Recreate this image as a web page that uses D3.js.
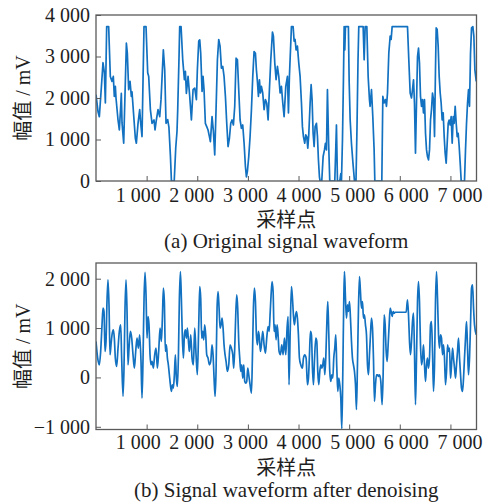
<!DOCTYPE html>
<html lang="zh">
<head>
<meta charset="utf-8">
<title>Signal waveform</title>
<style>
    body { margin: 0; background: #fff; }
    svg { display: block; }
    text {
        font-family: "Liberation Serif", "Times New Roman", "Noto Sans CJK SC", serif;
        fill: #1e1e1e;
    }
</style>
</head>
<body>
<svg id="chart" width="493" height="504"></svg>
<script src="https://cdn.jsdelivr.net/npm/d3@7"></script>
<script>
    // sample index / amplitude (mV)
    var origIdx = [0,40,66,105,138,165,185,211,250,283,316,342,362,382,395,435,461,488,500,514,547,600,619,645,672,698,711,751,777,797,830,863,883,909,948,988,1021,1041,1074,1107,1146,1166,1192,1225,1258,1284,1330,1357,1383,1416,1440,1470,1490,1545,1575,1600,1614,1640,1653,1680,1713,1746,1766,1785,1818,1851,1884,1917,1950,1983,2002,2029,2049,2068,2095,2114,2134,2160,2187,2213,2240,2259,2292,2319,2345,2371,2398,2424,2450,2477,2503,2529,2556,2582,2608,2635,2661,2687,2714,2740,2767,2793,2819,2846,2872,2898,2925,2951,2971,2990,3017,3043,3070,3096,3122,3149,3168,3188,3208,3228,3247,3267,3293,3320,3346,3372,3399,3425,3452,3485,3504,3531,3557,3583,3610,3636,3662,3689,3715,3748,3781,3801,3820,3847,3860,3893,3913,3932,3952,3978,4005,4031,4058,4077,4097,4123,4143,4163,4183,4202,4229,4249,4268,4288,4308,4328,4354,4374,4393,4413,4426,4459,4486,4512,4532,4552,4571,4595,4617,4716,4736,4749,4769,4815,4835,4848,4868,4887,4901,4914,4927,4985,5000,5020,5045,5075,5105,5135,5155,5175,5190,5276,5296,5316,5349,5375,5401,5414,5441,5467,5493,5507,5645,5665,5691,5717,5737,5757,5783,5810,5829,5849,6152,6178,6205,6231,6251,6271,6290,6310,6330,6350,6370,6389,6409,6429,6449,6468,6488,6508,6528,6547,6567,6587,6607,6626,6646,6666,6686,6705,6719,6738,6758,6778,6798,6817,6837,6857,6877,6896,6916,6936,6956,6975,6995,7015,7035,7055,7074,7094,7114,7134,7153,7173,7193,7213,7278,7298,7318,7338,7357,7377,7397,7417,7443,7463,7483,7510];
    var origAmp = [2080,1670,1550,2240,2850,2610,1880,3720,3720,2520,2400,2520,2040,2280,2000,1470,1230,1800,2110,1400,910,3320,3080,2200,2400,2040,2150,1470,1030,910,1390,1720,1390,1070,3720,3720,2610,2520,1720,1390,1470,1230,1470,1720,1550,1960,3160,2680,1390,1480,1300,600,0,0,800,1200,1720,3000,3720,3720,2920,2440,2640,2110,2520,2040,1470,2200,2240,1960,2680,3370,3400,3080,2160,2520,2200,1390,1310,1230,1070,950,1550,1190,630,1720,2920,3410,3250,2720,2760,2520,2040,1390,830,1030,1390,1470,1350,1800,2960,2920,2200,1470,1270,1350,910,350,100,230,590,1070,1720,2520,3120,3080,2680,2400,2040,2440,2120,2280,2120,1720,1960,1880,1470,2200,2920,3590,3490,2840,2440,2760,2520,2120,2280,1880,1550,2280,2520,1640,2520,3330,3720,3720,3370,3410,3160,3250,2840,2520,1880,1310,1070,910,1110,1070,790,1110,1880,2320,1960,1150,830,1310,1390,1070,510,100,0,0,590,750,910,750,2200,900,0,0,800,1350,0,0,180,0,1000,2440,3720,3160,3720,3720,2400,1470,910,430,0,0,1310,2920,3720,3720,2920,3720,3720,2520,1960,1800,2200,1550,750,0,0,2040,1880,1960,1800,2120,3080,3490,3410,3720,3720,2920,2120,2000,2200,2440,1880,670,1880,3000,3200,2840,2040,1800,1960,1640,1960,1150,750,590,510,750,1470,1720,2120,1960,1070,2680,3690,3650,3250,2520,2120,1880,1470,1640,1070,670,430,910,1390,1470,1350,1550,910,1550,1390,1800,1390,1070,1150,830,430,0,0,750,1390,1880,2200,1800,3080,3690,3720,3490,2680,2400];

    var denIdx = [0,33,66,92,119,138,158,178,198,217,237,257,277,296,316,343,362,382,408,435,461,488,507,534,553,573,593,613,632,652,679,705,731,758,784,810,837,863,889,909,929,949,968,988,1008,1028,1047,1067,1087,1107,1133,1159,1186,1212,1238,1265,1291,1311,1331,1350,1370,1390,1410,1429,1449,1469,1489,1508,1528,1548,1568,1587,1607,1627,1647,1667,1686,1706,1726,1746,1765,1785,1805,1831,1844,1871,1897,1923,1950,1976,2002,2029,2049,2068,2088,2108,2128,2147,2167,2187,2213,2240,2266,2292,2312,2332,2352,2371,2391,2411,2431,2450,2470,2490,2510,2529,2549,2569,2595,2622,2648,2674,2701,2720,2740,2760,2780,2799,2819,2839,2859,2879,2898,2918,2938,2958,2977,2997,3017,3043,3070,3089,3109,3129,3149,3168,3188,3208,3228,3247,3267,3293,3320,3346,3372,3399,3419,3438,3458,3478,3498,3517,3537,3557,3577,3596,3616,3642,3669,3695,3722,3748,3774,3794,3812,3835,3860,3880,3899,3919,3939,3959,3978,3998,4018,4044,4077,4097,4123,4150,4176,4196,4216,4235,4255,4275,4295,4314,4341,4361,4380,4400,4420,4440,4459,4479,4499,4519,4538,4558,4578,4598,4617,4637,4657,4677,4696,4716,4736,4756,4776,4795,4815,4835,4855,4874,4894,4907,4927,4947,4967,4986,5006,5026,5046,5065,5085,5105,5125,5144,5164,5184,5204,5223,5243,5263,5283,5302,5322,5342,5362,5382,5401,5421,5441,5461,5480,5500,5520,5540,5559,5579,5599,5625,5651,5671,5691,5711,5731,5750,5770,5790,5810,5829,5849,5869,5889,5908,6126,6152,6172,6192,6211,6231,6251,6271,6290,6310,6330,6350,6370,6389,6409,6429,6449,6468,6488,6508,6528,6547,6567,6587,6607,6626,6646,6666,6686,6705,6725,6745,6765,6784,6804,6824,6844,6864,6883,6903,6923,6943,6963,6982,7002,7022,7042,7061,7081,7101,7120,7140,7160,7180,7200,7219,7239,7259,7278,7298,7318,7338,7357,7377,7397,7417,7437,7457,7476,7510];
    var denAmp = [730,390,256,526,1065,1403,1335,526,728,1537,1976,1470,459,661,863,964,796,391,223,593,931,1065,391,-384,189,1403,1976,1335,256,593,931,796,459,189,526,796,593,863,324,-418,391,1605,2131,1672,796,1234,1065,459,256,324,189,459,593,189,526,998,728,1200,1807,1537,526,661,391,256,54,-148,-283,-148,-216,54,459,-14,-182,391,1605,2144,1605,796,391,863,964,796,998,661,526,863,391,256,998,459,54,1065,1841,1605,796,931,762,1065,863,459,391,256,324,661,459,-14,-384,121,1403,1740,1403,998,1065,1200,998,661,459,324,121,256,661,593,459,189,593,1268,1672,1403,728,391,121,256,-14,256,-81,-115,-81,189,54,-148,-317,391,1403,1807,1538,863,661,931,796,526,661,931,661,492,796,1031,931,1268,1672,1942,1740,931,1065,762,1065,863,526,459,661,459,796,459,1000,1234,-148,900,1841,1605,1268,1065,1234,1335,1200,863,391,256,189,391,459,391,-148,-14,459,931,863,189,-148,324,796,728,121,-148,121,256,189,256,391,54,391,1065,1537,863,121,-81,54,-14,391,593,863,189,-283,-14,-148,-418,-1040,54,1605,2144,1605,1200,1470,1335,1537,1200,728,391,256,121,-148,-650,256,1403,2043,1740,1403,1537,1200,1268,1065,863,256,54,459,863,1200,998,391,-485,-148,54,54,20,54,-81,-553,54,1268,1065,526,324,661,1065,1403,1335,1234,1335,1300,1320,1320,1571,1268,728,459,728,1133,1301,526,-553,391,1537,1942,1537,661,256,391,661,256,-81,256,391,189,391,1065,1133,526,-283,256,1537,2144,1605,863,593,863,796,459,661,391,-148,121,661,526,593,-14,256,593,391,189,-14,256,526,796,391,54,-216,-283,-14,391,796,1133,593,54,391,1065,1807,1875,1403,1065,863];

    var xTicks = [1000, 2000, 3000, 4000, 5000, 6000, 7000];
    var origTicks = [0, 1000, 2000, 3000, 4000];
    var denTicks = [-1000, 0, 1000, 2000];
    var xLabel = "采样点";
    var yLabel = "幅值 / mV";
    var captions = ["(a) Original signal waveform", "(b) Signal waveform after denoising"];

    var fmt = d3.formatLocale({decimal: ".", thousands: " ", grouping: [3], currency: ["", ""], minus: "\u2212"}).format(",d");

    var svg = d3.select("#chart");
    var left = 96, right = 476.5;
    var lineColor = "#1271c0";
    var frameColor = "#5a5a5a";

    var x = d3.scaleLinear().domain([0, 7515]).range([left, right]);

    var panels = [
        {idx: origIdx, amp: origAmp, top: 15, bottom: 181, domain: [0, 4000], ticks: origTicks,
         tickPad: 6.5, xLabelY: 226.5, captionY: 248, curve: d3.curveLinear},
        {idx: denIdx, amp: denAmp, top: 263, bottom: 429.5, domain: [-1055, 2318], ticks: denTicks,
         tickPad: 5, xLabelY: 475, captionY: 497, curve: d3.curveMonotoneX}
    ];

    panels.forEach(function(p, i) {
        var y = d3.scaleLinear().domain(p.domain).range([p.bottom, p.top]);
        var g = svg.append("g");

        g.append("clipPath").attr("id", "clip" + i)
            .append("rect")
            .attr("x", left).attr("y", p.top)
            .attr("width", right - left).attr("height", p.bottom - p.top);

        var pts = p.idx.map(function(d, k) { return [d, p.amp[k]]; });
        var line = d3.line()
            .x(function(d) { return x(d[0]); })
            .y(function(d) { return y(d[1]); })
            .curve(p.curve);

        g.append("path")
            .datum(pts)
            .attr("clip-path", "url(#clip" + i + ")")
            .attr("fill", "none")
            .attr("stroke", lineColor)
            .attr("stroke-width", 1.7)
            .attr("stroke-linejoin", "round")
            .attr("d", line);

        // bottom axis, ticks pointing inward
        var xa = g.append("g")
            .attr("transform", "translate(0," + p.bottom + ")")
            .call(d3.axisBottom(x).tickValues(xTicks).tickFormat(fmt)
                .tickSizeInner(-5).tickSizeOuter(0).tickPadding(p.tickPad));
        xa.select(".domain").remove();
        xa.selectAll("line").attr("stroke", frameColor);
        xa.selectAll("text")
            .attr("fill", "#1e1e1e")
            .style("font-size", "20px")
            .attr("dx", function(d) { return (d - 4000) / 3000 * 9; });

        var ya = g.append("g")
            .attr("transform", "translate(" + left + ",0)")
            .call(d3.axisLeft(y).tickValues(p.ticks).tickFormat(fmt)
                .tickSizeInner(-5).tickSizeOuter(0).tickPadding(6));
        ya.select(".domain").remove();
        ya.selectAll("line").attr("stroke", frameColor);
        ya.selectAll("text")
            .attr("fill", "#1e1e1e")
            .style("font-size", "20px");

        g.append("rect")
            .attr("x", left).attr("y", p.top)
            .attr("width", right - left).attr("height", p.bottom - p.top)
            .attr("fill", "none")
            .attr("stroke", frameColor)
            .attr("stroke-width", 1.3);

        g.append("text")
            .attr("x", (left + right) / 2).attr("y", p.xLabelY)
            .attr("text-anchor", "middle")
            .style("font-size", "20px")
            .text(xLabel);

        g.append("text")
            .attr("transform", "translate(29.5," + (p.top + p.bottom) / 2 + ") rotate(-90)")
            .attr("text-anchor", "middle")
            .style("font-size", "20px")
            .text(yLabel);

        g.append("text")
            .attr("x", (left + right) / 2).attr("y", p.captionY)
            .attr("text-anchor", "middle")
            .style("font-size", "21px")
            .text(captions[i]);
    });
</script>
</body>
</html>
